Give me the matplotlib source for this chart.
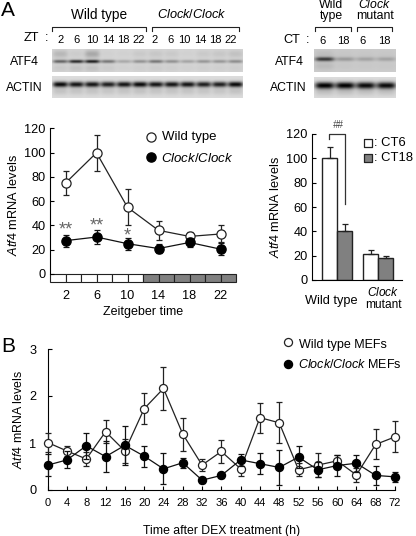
import numpy as np
import matplotlib
matplotlib.use('Agg')
import matplotlib.pyplot as plt

plt.rcParams['font.family'] = ['Liberation Sans', 'DejaVu Sans']
plt.rcParams['mathtext.fontset'] = 'custom'
plt.rcParams['mathtext.rm'] = 'Liberation Sans'
plt.rcParams['mathtext.it'] = 'Liberation Sans:italic'

# panel A, time course
zt = [2, 6, 10, 14, 18, 22]
wt_zt = [75, 100, 55, 36, 31, 33]
wt_zt_err = [10, 15, 15, 8, 4, 7]
clk_zt = [27.5, 30.5, 25, 21, 26, 20.5]
clk_zt_err = [5, 6, 5, 4, 4, 5]
strip_colors = ['white'] * 6 + ['#808080'] * 6

# panel A, bars
ct6 = [100, 21]
ct6_err = [9, 3.5]
ct18 = [40, 18]
ct18_err = [6, 1.5]

# panel B
hours = list(range(0, 76, 4))
wt_dex = [1.01, 0.83, 0.66, 1.24, 0.83, 1.73, 2.16, 1.19, 0.53, 0.82, 0.45, 1.54, 1.43, 0.43, 0.53, 0.62, 0.32, 0.97, 1.13]
wt_dex_err = [0.2, 0.1, 0.14, 0.24, 0.25, 0.33, 0.45, 0.35, 0.13, 0.25, 0.15, 0.32, 0.44, 0.14, 0.25, 0.12, 0.14, 0.32, 0.33]
clk_dex = [0.53, 0.64, 0.94, 0.71, 0.95, 0.72, 0.45, 0.58, 0.21, 0.31, 0.64, 0.56, 0.48, 0.70, 0.43, 0.52, 0.57, 0.31, 0.28]
clk_dex_err = [0.23, 0.18, 0.28, 0.33, 0.42, 0.22, 0.33, 0.11, 0.07, 0.05, 0.12, 0.23, 0.37, 0.23, 0.16, 0.22, 0.18, 0.2, 0.11]

# blot band strength per lane, 0 to 1
atf4_left = [0.5, 0.75, 0.8, 0.42, 0.2, 0.3, 0.42, 0.3, 0.22, 0.28, 0.28, 0.32]
atf4_upper = [0.12, 0.04, 0.18, 0.02, 0.02, 0.05, 0.06, 0.05, 0.02, 0.05, 0.06, 0.08]
actin_left = [0.95, 0.9, 0.9, 0.85, 0.9, 0.95, 0.9, 0.9, 0.9, 0.85, 0.85, 0.95]
atf4_right = [0.65, 0.22, 0.18, 0.18]
atf4_right_upper = [0.05, 0.02, 0.02, 0.02]
actin_right = [1.0, 1.0, 0.95, 0.95]

zt_labels = ['2', '6', '10', '14', '18', '22', '2', '6', '10', '14', '18', '22']
zt_label_x = [61, 77, 92, 108, 123, 139, 155, 170, 184, 200, 215, 231]
ct_labels = ['6', '18', '6', '18']
ct_label_x = [323, 343, 363, 384]

W, H = 416, 536
FS = 9.2


def px_axes(x0, y0, x1, y1):
    # axes from pixel box, y measured from the top
    return fig.add_axes([x0 / W, 1 - y1 / H, (x1 - x0) / W, (y1 - y0) / H])


def blot(x0, y0, x1, y1, bands, bg, width, centre, upper=None):
    ax = px_axes(x0, y0, x1, y1)
    w = int(x1 - x0)
    h = int(y1 - y0)
    img = np.full((h, w), bg)
    lane = w / len(bands)
    yy = np.arange(h)[:, None]
    xx = np.arange(w)[None, :]
    for i, b in enumerate(bands):
        c = (i + 0.5) * lane
        across = np.exp(-((xx - c) / (lane * 0.47)) ** 4)
        img = img - b * 0.85 * np.exp(-((yy - h * centre) / width) ** 2) * across
        # faint smear under or over the band
        img = img - b * 0.1 * np.exp(-((yy - h * (centre + 0.3)) / 4.0) ** 2) * across
        if upper is not None:
            img = img - upper[i] * np.exp(-((yy - h * 0.2) / 4.0) ** 2) * across
    ax.imshow(np.clip(img, 0, 1), cmap='gray', vmin=0, vmax=1, aspect='auto', interpolation='bilinear')
    ax.axis('off')


def bracket(x0, x1, y):
    over.plot([x0, x0, x1, x1], [y + 4, y, y, y + 4], color='#222222', lw=0.8)


def style(ax):
    ax.spines['top'].set_visible(False)
    ax.spines['right'].set_visible(False)
    ax.tick_params(direction='in', length=3, width=0.8, labelsize=FS, pad=3)


fig = plt.figure(figsize=(W / 100, H / 100), dpi=100)

# overlay in pixel coordinates for labels
over = fig.add_axes([0, 0, 1, 1])
over.set_xlim(0, W)
over.set_ylim(H, 0)
over.axis('off')

over.text(1, 10, 'A', fontsize=15, va='center')
over.text(1, 347, 'B', fontsize=15, va='center')
over.text(99, 15, 'Wild type', fontsize=9.8, ha='center', va='center')
over.text(192, 14, r'$\mathit{Clock/Clock}$', fontsize=9.2, ha='center', va='center')
bracket(52, 146, 27)
bracket(152, 239, 27)
over.text(24, 38, 'ZT', fontsize=FS, va='center')
over.text(45, 38, ':', fontsize=FS, va='center')
for lab, x in zip(zt_labels, zt_label_x):
    over.text(x, 40, lab, fontsize=8, ha='center', va='center')
over.text(24, 62, 'ATF4', fontsize=8.8, ha='center', va='center')
over.text(24, 88, 'ACTIN', fontsize=8.8, ha='center', va='center')

over.text(331, 5, 'Wild', fontsize=8.8, ha='center', va='center')
over.text(331, 16, 'type', fontsize=8.8, ha='center', va='center')
over.text(375, 5, r'$\mathit{Clock}$', fontsize=8.8, ha='center', va='center')
over.text(375, 16, 'mutant', fontsize=8.8, ha='center', va='center')
bracket(315, 351, 27)
bracket(357, 392, 27)
over.text(283, 40, 'CT', fontsize=FS, va='center')
over.text(306, 40, ':', fontsize=FS, va='center')
for lab, x in zip(ct_labels, ct_label_x):
    over.text(x, 41, lab, fontsize=8, ha='center', va='center')
over.text(289, 62, 'ATF4', fontsize=8.8, ha='center', va='center')
over.text(288, 88, 'ACTIN', fontsize=8.8, ha='center', va='center')

blot(52, 49, 243, 72, atf4_left, 0.84, 1.8, 0.52, atf4_upper)
blot(52, 76, 243, 98, actin_left, 0.86, 2.8, 0.36)
blot(314, 49, 396, 72, atf4_right, 0.80, 2.2, 0.42, atf4_right_upper)
blot(314, 77, 396, 98, actin_right, 0.86, 3.4, 0.38)

# time course
ax1 = px_axes(50, 128.5, 236, 282)
ax1.set_xlim(0, 24)
ax1.set_ylim(-6.6, 120)
ax1.patch.set_alpha(0)
style(ax1)
ax1.spines['bottom'].set_visible(False)
ax1.spines['left'].set_bounds(0, 120)
ax1.bar(np.arange(1, 24, 2), [6.6] * 12, width=2, bottom=-6.6, color=strip_colors, edgecolor='#222222', lw=0.8, clip_on=False)
ax1.errorbar(zt, wt_zt, yerr=wt_zt_err, color='#222222', lw=0.9, capsize=2.5, capthick=0.9, marker='o', ms=6.6, mfc='white', mec='#222222', mew=0.9, zorder=3)
ax1.errorbar(zt, clk_zt, yerr=clk_zt_err, color='#111111', lw=0.9, capsize=2.5, capthick=0.9, marker='o', ms=6.6, mfc='black', mec='black', zorder=4)
ax1.set_yticks(range(0, 121, 20))
ax1.set_xticks(zt)
ax1.tick_params(axis='x', length=0, pad=6)
ax1.set_ylabel(r'$\mathit{Atf4}$ mRNA levels', fontsize=FS, labelpad=3)
ax1.set_xlabel('Zeitgeber time', fontsize=9, labelpad=3)
ax1.text(2, 29, '**', fontsize=13, color='#666666', ha='center', va='bottom')
ax1.text(6, 33, '**', fontsize=13, color='#666666', ha='center', va='bottom')
ax1.text(10, 24, '*', fontsize=13, color='#666666', ha='center', va='bottom')
over.plot([151], [137], 'o', ms=6.6, mfc='white', mec='#222222', mew=0.9)
over.plot([151], [157], 'o', ms=6.6, mfc='black', mec='black')
over.text(162, 137, 'Wild type', fontsize=9.5, va='center')
over.text(161, 159, r'$\mathit{Clock/Clock}$', fontsize=9.5, va='center')

# bars
ax2 = px_axes(312, 134, 402, 280)
ax2.set_xlim(0, 90)
ax2.set_ylim(0, 120)
ax2.patch.set_alpha(0)
style(ax2)
pos = [10, 51]
ax2.bar([p + 7.5 for p in pos], ct6, width=15, color='white', edgecolor='#222222', lw=1.0, yerr=[[0, 0], ct6_err], ecolor='#222222', error_kw=dict(lw=0.9, capsize=2.5, capthick=0.9))
ax2.bar([p + 22.5 for p in pos], ct18, width=15, color='#808080', edgecolor='#222222', lw=1.0, yerr=[[0, 0], ct18_err], ecolor='#222222', error_kw=dict(lw=0.9, capsize=2.5, capthick=0.9))
ax2.set_yticks(range(0, 121, 20))
ax2.set_xticks([])
ax2.set_ylabel(r'$\mathit{Atf4}$ mRNA levels', fontsize=FS, labelpad=3)
over.text(331, 301, 'Wild type', fontsize=9.2, ha='center', va='center')
over.text(383, 293, r'$\mathit{Clock}$', fontsize=8.6, ha='center', va='center')
over.text(383, 305, 'mutant', fontsize=8.6, ha='center', va='center')
over.plot([329, 329, 345, 345], [139, 134, 134, 204], color='#333333', lw=0.9)
over.text(338, 125, '##', fontsize=7, color='#444444', style='italic', ha='center', va='center')
over.scatter([368, 368], [143, 158], s=26, marker='s', c=['white', '#808080'], edgecolors='#222222', linewidths=0.9)
over.text(374, 143, ': CT6', fontsize=9.4, va='center')
over.text(374, 158, ': CT18', fontsize=9.4, va='center')

# DEX series
ax3 = px_axes(47.7, 349, 395, 490)
ax3.set_xlim(0, 72)
ax3.set_ylim(0, 3)
ax3.patch.set_alpha(0)
style(ax3)
ax3.errorbar(hours, wt_dex, yerr=wt_dex_err, color='#222222', lw=0.9, capsize=2, capthick=0.9, marker='o', ms=5.8, mfc='white', mec='#222222', mew=0.9, zorder=3, clip_on=False)
ax3.errorbar(hours, clk_dex, yerr=clk_dex_err, color='#111111', lw=0.9, capsize=2, capthick=0.9, marker='o', ms=5.8, mfc='black', mec='black', zorder=4, clip_on=False)
ax3.set_xticks(hours)
ax3.set_yticks([0, 1, 2, 3])
ax3.tick_params(axis='x', labelsize=8, pad=6)
ax3.tick_params(axis='y', pad=8)
ax3.set_ylabel(r'$\mathit{Atf4}$ mRNA levels', fontsize=FS - 0.3, labelpad=3)
ax3.set_xlabel('Time after DEX treatment (h)', fontsize=8.8, labelpad=12)
over.plot([288], [342], 'o', ms=5.8, mfc='white', mec='#222222', mew=0.9)
over.plot([288], [364], 'o', ms=5.8, mfc='black', mec='black')
over.text(299, 345, 'Wild type MEFs', fontsize=9, va='center')
over.text(298, 364, r'$\mathit{Clock/Clock}$ MEFs', fontsize=9, va='center')

fig.savefig('out.png', dpi=100)
